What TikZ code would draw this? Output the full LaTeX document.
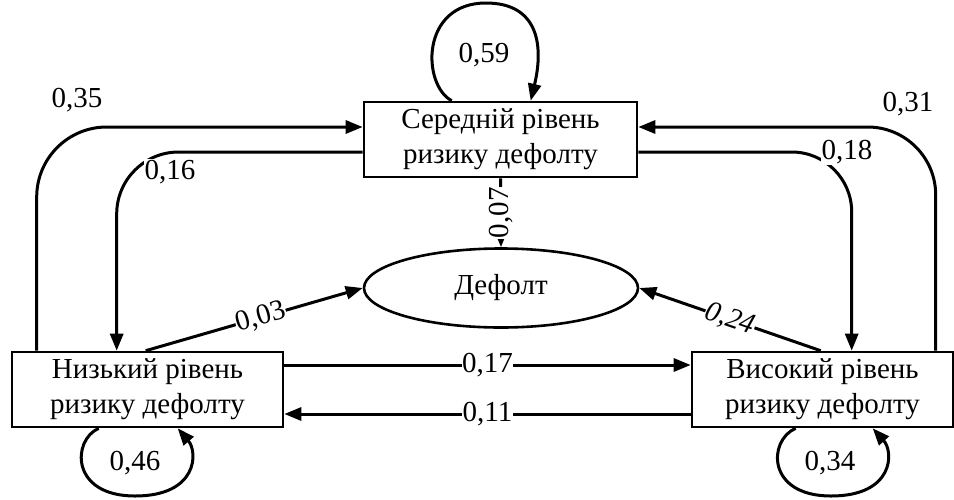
\documentclass[tikz,border=0pt]{standalone}
\usepackage{fontspec}
\setmainfont{Liberation Serif}
\usetikzlibrary{arrows.meta,shapes.geometric,calc}
\begin{document}
\begin{tikzpicture}[x=1pt,y=-1pt,
  every node/.style={font=\fontsize{29}{35}\selectfont},
  state/.style={draw,line width=2.6pt,rectangle,inner sep=0pt,align=center,fill=white},
  arr/.style={line width=3pt,-{Triangle[length=17pt,width=13pt]}},
  lbl/.style={fill=white,inner sep=1pt}]
\useasboundingbox (0,0) rectangle (954,499);
% nodes
\node[state,minimum width=273pt,minimum height=75pt] (mid) at (500.5,139.5) {Середній рівень\\ризику дефолту};
\node[state,minimum width=271pt,minimum height=75pt] (low) at (147.5,389.5) {Низький рівень\\ризику дефолту};
\node[state,minimum width=261pt,minimum height=75pt] (high) at (822.5,389.5) {Високий рівень\\ризику дефолту};
\node[draw,line width=2.6pt,ellipse,minimum width=274pt,minimum height=79pt,inner sep=0pt] (def) at (501,288) {Дефолт};
% coordinates
\coordinate (a35) at ($(low.north west)+(26,0)$);
\coordinate (b35) at ($(mid.west)+(0,-12.5)$);
\coordinate (a16) at ($(mid.west)+(0,12.5)$);
\coordinate (b16) at ($(low.north west)+(106,0)$);
\coordinate (a31) at ($(high.north west)+(245,0)$);
\coordinate (b31) at ($(mid.east)+(0,-12.5)$);
\coordinate (a18) at ($(mid.east)+(0,12.5)$);
\coordinate (b18) at ($(high.north west)+(161,0)$);
% 0,35
\draw[arr,rounded corners=70pt] (a35) |- (b35);
\node at (77,100) {0,35};
% 0,31
\draw[arr,rounded corners=68pt] (a31) |- (b31);
\node at (908,104) {0,31};
% 0,16
\draw[arr,rounded corners=62pt] (a16) -| (b16);
\node[lbl] at (170,172) {0,16};
% 0,18
\draw[arr,rounded corners=60pt] (a18) -| (b18);
\node[lbl] at (847,152) {0,18};
% 0,07
\draw[arr] (mid.south) -- node[lbl,rotate=90,inner sep=0.5pt] {0,07} (def.north);
% 0,03
\coordinate (a03) at ($(low.north west)+(135,0)$);
\draw[arr] (a03) -- node[lbl,sloped,pos=0.53,inner sep=0.5pt] {0,03} (def.west);
% 0,24
\coordinate (a24) at ($(high.north west)+(130,0)$);
\draw[arr] (a24) -- node[lbl,sloped,pos=0.5,inner sep=0.5pt,font=\fontsize{29}{35}\selectfont\itshape] {0,24} (def.east);
% 0,17 / 0,11
\draw[arr] ($(low.east)+(0,-24.5)$) -- node[lbl,inner sep=0.5pt] {0,17} ($(high.west)+(0,-24.5)$);
\draw[arr] ($(high.west)+(0,24.5)$) -- node[lbl,inner sep=0.5pt] {0,11} ($(low.east)+(0,24.5)$);
% self loops
\coordinate (s59) at ($(mid.north west)+(89,0)$);
\coordinate (e59) at ($(mid.north west)+(168,0)$);
\draw[arr] (s59) .. controls (422,85) and (420,3) .. (486,3) .. controls (538,3) and (544,45) .. (e59);
\node at (484,55) {0,59};
\coordinate (s46) at ($(low.south west)+(88,0)$);
\coordinate (e46) at ($(low.south west)+(167,0)$);
\draw[arr] (s46) .. controls (72,440) and (70,496) .. (135,496) .. controls (198,496) and (198,452) .. (e46);
\node at (135,463) {0,46};
\coordinate (s34) at ($(high.south west)+(105,0)$);
\coordinate (e34) at ($(high.south west)+(182,0)$);
\draw[arr] (s34) .. controls (768,440) and (766,496) .. (831,496) .. controls (894,496) and (894,452) .. (e34);
\node at (830,463) {0,34};
\end{tikzpicture}
\end{document}
